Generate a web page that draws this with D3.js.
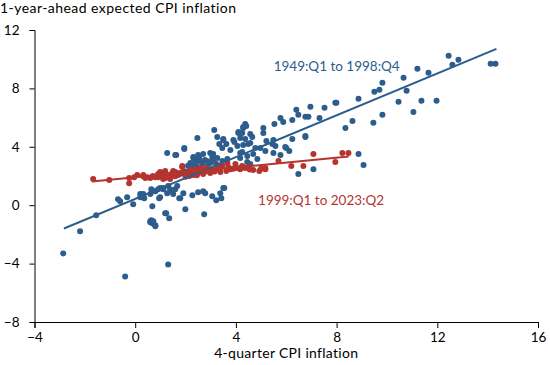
<!DOCTYPE html>
<html><head><meta charset="utf-8">
<script src="https://cdn.jsdelivr.net/npm/d3@7"></script>
<style>body{margin:0;background:#fff}svg{display:block}text{font-family:Lato,"DejaVu Sans",sans-serif;}</style>
</head><body>
<script>
// ---- data ----
const xTicks = [-4, 0, 4, 8, 12, 16];
const yTicks = [-8, -4, 0, 4, 8, 12];
const titleY = "1-year-ahead expected CPI inflation";
const titleX = "4-quarter CPI inflation";
const seriesNames = ["1949:Q1 to 1998:Q4", "1999:Q1 to 2023:Q2"];

// 1949:Q1 to 1998:Q4 : [CPI inflation, expected inflation]
const early = [
[-2.86,-3.3],[-2.19,-1.79],[-1.55,-0.69],[-0.4,-4.88],[1.31,-4.06],
[-0.68,0.41],[-0.6,0.27],[-0.32,0.55],[-0.08,0.07],[0.2,0.55],[0.32,0.76],[0.36,0.48],[0.6,-1.17],[0.68,-0.07],
[0.6,0.76],[0.8,0.96],[0.99,0.55],[1.11,1.1],[1.19,-0.55],[1.35,-0.89],[0.6,-1.1],[0.68,-1.24],[0.8,-1.37],
[1.99,-0.27],[2.27,0.69],[2.47,4.6],[1.95,3.92],[1.63,3.44],[1.27,3.57],[2.31,3.23],
[0.72,0.96],[0.91,1.1],[1.11,1.17],[1.31,1.31],[1.47,0.96],[1.59,1.1],[1.51,0.76],[1.27,0.82],[0.32,0.62],[0.2,0.76],
[1.91,0.82],[1.79,0.48],[2.5,0.89],[2.7,0.96],[3.06,0.62],[3.38,0.82],[3.5,1.17],[3.22,0.34],[3.42,0.48],
[2.74,-0.62],[1.23,-0.55],[0.64,-1.03],[0.72,-1.1],[0.8,-1.44],
[0.95,0.48],[0.64,1.1],[0.99,1.17],[1.39,1.1],[1.67,1.31],[1.75,0.48],[2.78,0.82],[3.54,1.17],
[3.14,5.15],[3.26,4.67],[3.34,4.19],[3.5,4.47],[1.59,3.44],[1.95,3.85],[2.31,3.3],[2.5,3.44],[2.7,3.51],[2.98,3.57],
[3.1,3.51],[3.06,3.3],[3.26,3.23],[2.78,3.09],[2.58,3.02],[2.39,3.09],[2.19,2.89],[2.27,2.54],[2.66,2.82],[2.9,2.82],
[3.22,2.82],[3.46,3.02],[3.66,3.16],[3.78,3.78],[3.94,4.33],[3.62,4.19],[4.1,4.95],[4.17,4.6],[4.29,5.29],[4.41,5.43],
[4.06,4.05],[4.25,3.64],[4.45,3.37],
[4.37,5.57],[4.29,5.36],[4.1,5.02],[4.25,4.95],[4.57,4.88],[4.65,4.67],[3.5,4.54],[3.9,4.47],[4.37,4.54],[3.46,3.92],
[4.29,4.12],[4.57,4.26],[4.77,3.92],
[2.0,2.3],[2.2,2.45],[2.45,2.6],[2.6,2.35],[2.85,2.6],[3.0,2.9],[1.8,2.15],[2.1,2.7],[2.4,2.8],[2.9,3.0],[3.1,3.1],[2.55,3.2],
[5.09,5.29],[5.09,4.95],[5.53,5.57],[5.77,5.98],[5.88,5.7],[6.24,5.84],[6.4,6.53],[6.48,6.19],[6.76,6.05],[6.88,6.05],
[6.96,6.74],[7.52,6.67],[7.99,7.01],[7.32,5.98],[6.76,4.74],[6.24,4.54],[5.49,4.47],[5.21,4.4],[5.57,4.05],[5.45,4.19],
[4.97,3.92],[4.49,4.19],[5.96,3.99],[6.12,3.71],[5.77,3.44],[5.49,3.57],[5.17,3.71],[4.69,3.51],[4.85,3.16],[4.45,2.96],
[4.57,2.82],[4.17,3.23],[4.17,3.57],[6.0,3.92],[6.48,2.13],[7.08,2.47],[6.76,4.67],
[8.63,5.77],[8.35,5.29],[8.87,7.29],[9.5,7.77],[9.7,7.9],[9.82,8.38],[10.66,8.73],[11.21,9.35],[11.65,9.07],
[12.45,10.24],[12.6,9.62],[12.84,9.97],[14.12,9.69],[14.31,9.69],[10.78,7.84],[10.46,7.08],[11.37,7.15],[11.97,7.15],
[11.05,6.39],[9.82,6.19],[9.46,5.64],[7.95,7.01],[8.87,3.51],[9.07,2.75]
];

// 1999:Q1 to 2023:Q2
const late = [
[-1.67,1.79],[-1.03,1.72],[-0.24,1.51],[-0.24,1.86],[-0.04,1.92],[0.08,2.06],[0.32,1.99],[0.32,2.06],[0.48,1.92],[0.4,1.86],
[0.6,1.86],[0.8,1.92],[0.91,1.92],[0.91,2.13],[1.03,1.99],[1.07,2.2],[1.11,1.79],[1.11,2.2],[1.19,1.86],[1.19,2.34],
[1.31,2.06],[1.39,1.79],[1.51,2.34],[1.47,2.2],[1.59,1.99],[1.67,2.13],[1.71,2.06],[1.87,2.68],[1.91,2.27],[2.07,2.13],
[2.19,2.41],[2.31,2.06],[2.39,2.47],[2.5,2.2],[2.66,2.41],[2.7,2.13],[2.86,2.54],[2.98,2.2],[3.1,2.41],[3.26,2.54],
[3.38,2.27],[3.46,2.68],[3.62,2.34],[3.78,2.47],[3.98,2.82],[4.17,2.47],[4.25,2.61],[4.37,2.54],[4.49,2.61],[4.69,2.41],
[4.93,2.34],[5.17,2.47],[5.69,3.02],[6.2,2.68],[6.68,2.68],[7.08,3.51],[7.95,2.96],[8.23,3.57],[8.47,3.57],
[0.99,2.27],[1.19,2.13],[1.59,2.27],[1.87,2.61],[2.19,2.2],[2.58,2.34],[3.26,2.68],[3.66,2.89],[4.25,2.68],[5.17,2.54],
[1.4,2.0],[1.75,2.2],[2.0,1.95],[2.25,2.3],[2.6,2.55],[2.8,2.3],[3.0,2.45],[3.35,2.45],[3.7,2.6],[3.9,2.5],
[1.25,1.95],[1.55,2.1],[0.7,2.0],[2.15,2.0],[2.45,2.05],[3.15,2.3],[4.05,2.55],[4.55,2.45],[5.0,2.5]
];

// fitted lines: [slope, intercept, xStart, xEnd]
const earlyFit = [0.716, 0.43, -2.83, 14.35];
const lateFit = [0.169, 1.91, -1.72, 8.48];

const blue = "#2c5d8c", red = "#b5342f";

// ---- chart ----
const W = 550, H = 365;
const svg = d3.select("body").append("svg").attr("width", W).attr("height", H);
const x = d3.scaleLinear().domain([-4, 16]).range([34.5, 538]);
const y = d3.scaleLinear().domain([-8, 12]).range([322, 30]);

svg.append("g").attr("transform", "translate(0,322)")
  .call(d3.axisBottom(x).tickValues(xTicks).tickSize(6).tickPadding(4).tickFormat(d3.format("d")))
  .call(g => { g.select(".domain").attr("stroke", "#000");
    g.selectAll("text").attr("font-size", 13.5).attr("fill", "#000"); });

svg.append("g").attr("transform", "translate(34.5,0)")
  .call(d3.axisLeft(y).tickValues(yTicks).tickSize(5).tickPadding(10).tickFormat(d3.format("d")))
  .call(g => { g.select(".domain").attr("stroke", "#000");
    g.selectAll("text").attr("font-size", 13.5).attr("fill", "#000"); });

svg.append("text").attr("x", 0).attr("y", 13).attr("font-size", 14).attr("letter-spacing", 0.45).text(titleY);
svg.append("text").attr("x", (x(-4) + x(16)) / 2).attr("y", 358).attr("text-anchor", "middle")
  .attr("font-size", 14).attr("letter-spacing", 0.3).text(titleX);

svg.append("g").selectAll("circle").data(early).join("circle")
  .attr("cx", d => x(d[0])).attr("cy", d => y(d[1])).attr("r", 3).attr("fill", blue);
svg.append("g").selectAll("circle").data(late).join("circle")
  .attr("cx", d => x(d[0])).attr("cy", d => y(d[1])).attr("r", 3).attr("fill", red);

function fitLine(f, c) {
  const pts = [f[2], f[3]].map(v => [x(v), y(f[0] * v + f[1])]);
  svg.append("path").attr("d", d3.line()(pts)).attr("stroke", c).attr("stroke-width", 2).attr("fill", "none");
}
fitLine(earlyFit, blue);
fitLine(lateFit, red);

svg.append("text").attr("x", x(5.5)).attr("y", y(9.2)).attr("font-size", 13.5).attr("fill", blue).text(seriesNames[0]);
svg.append("text").attr("x", x(4.88)).attr("y", y(0)).attr("font-size", 13.5).attr("fill", red).text(seriesNames[1]);
</script>
</body></html>
